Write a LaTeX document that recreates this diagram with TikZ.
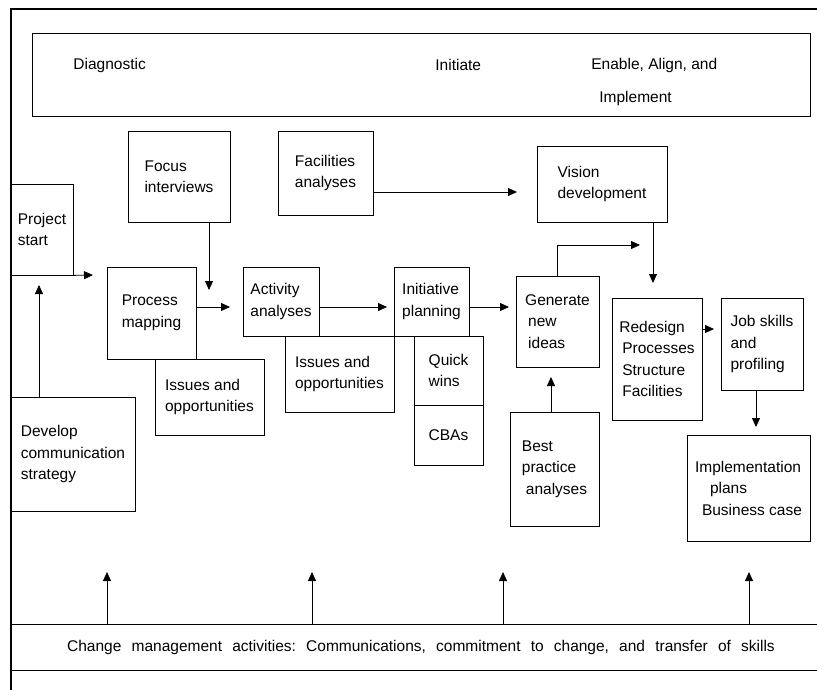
\documentclass[tikz,border=0pt]{standalone}
\usepackage{fontspec}
\setmainfont{Liberation Sans}
\usetikzlibrary{arrows.meta}
\tikzset{
  box/.style={draw, align=left, inner sep=0pt},
  lbl/.style={anchor=west, inner sep=0pt},
  flow/.style={-{Triangle[length=9pt,width=8pt]}},
}
\newcommand{\gap}{\hspace{10.2pt}}

\begin{document}
\begin{tikzpicture}[x=1pt,y=1pt,line width=0.8pt,font=\fontsize{15.5}{21.5}\selectfont]
		\useasboundingbox (0,0) rectangle (817,-690);
		% frame
		\draw [line width=2pt] (11,-690) -- (11,-9) -- (817,-9);
		% phases
		\draw (32,-33) rectangle (810,-116);
		\node [lbl] (diag) at (73,-65) {Diagnostic};
		\node [lbl] (init) at (435,-65) {Initiate};
		\node [lbl] (enable) at (591,-65) {Enable, Align, and};
		\node [lbl] (impl) at (599,-98) {Implement};
		% boxes
		\node [box, minimum width=62, minimum height=91] (start) at (42,-229.5) {Project\\start};
		\node [box, minimum width=102, minimum height=91] (focus) at (179,-176.5) {Focus\\interviews};
		\node [box, minimum width=95, minimum height=84] (facil) at (325.5,-173) {Facilities\\analyses};
		\node [box, minimum width=130, minimum height=76] (vision) at (602,-184) {Vision\\development\hspace{8pt}};
		\node [box, minimum width=89, minimum height=92] (procmap) at (151.5,-313) {Process\\mapping};
		\node [box, minimum width=109, minimum height=76] (issuesa) at (209.5,-397) {Issues and\\opportunities};
		\node [box, minimum width=76, minimum height=69] (activity) at (281,-301.5) {Activity\\analyses};
		\node [box, minimum width=109, minimum height=76] (issuesb) at (339.5,-374) {Issues and\\opportunities};
		\node [box, minimum width=75, minimum height=69] (initplan) at (431.5,-301.5) {Initiative\\planning};
		\node [box, minimum width=69, minimum height=69] (quick) at (448.5,-370.5) {Quick\\wins};
		\node [box, minimum width=69, minimum height=60] (cba) at (448.5,-435) {CBAs};
		\node [box, minimum width=83, minimum height=91] (genideas) at (557.5,-321.5) {Generate\\\hspace{3pt}new\\\hspace{3pt}ideas};
		\node [box, minimum width=89, minimum height=114] (bestprac) at (554.5,-469) {Best\\practice\\\hspace{4pt}analyses};
		\node [box, minimum width=90, minimum height=122] (redesign) at (657,-359) {Redesign\\\hspace{3pt}Processes\\\hspace{3pt}Structure\\\hspace{3pt}Facilities};
		\node [box, minimum width=82, minimum height=92] (jobskills) at (762,-344) {Job skills\\and\\profiling};
		\node [box, minimum width=123, minimum height=106] (implplan) at (748.5,-488) {Implementation\\\hspace{15pt}plans\\\hspace{7pt}Business case};
		\node [box, minimum width=124, minimum height=114] (develop) at (73,-454) {Develop\\communication\\strategy};
		% change management band
		\node [inner sep=0pt, minimum width=806, minimum height=45] (change) at (414,-647.5)
			{\hspace{14pt}Change\gap management\gap activities:\gap Communications,\gap commitment\gap to\gap change,\gap and\gap transfer\gap of\gap skills};
		\draw (change.north west) -- (change.north east);
		\draw (change.south west) -- (change.south east);
		% free ends
		\coordinate (a1) at (93,-275);
		\coordinate (a2) at (39,-285);
		\coordinate (a3) at (209,-290);
		\coordinate (a4) at (230,-307);
		\coordinate (a5) at (387,-307);
		\coordinate (a6) at (509,-307);
		\coordinate (a7) at (517,-192);
		\coordinate (a8) at (640,-245);
		\coordinate (a9) at (653,-283);
		\coordinate (a10) at (714,-329);
		\coordinate (a11) at (756,-427);
		\coordinate (a12) at (551,-377);
		% connectors
		\draw [flow] (start.south east) -- (a1);
		\draw [flow] (develop.north -| a2) -- (a2);
		\draw [flow] (focus.south -| a3) -- (a3);
		\draw [flow] (procmap.east |- a4) -- (a4);
		\draw [flow] (activity.east |- a5) -- (a5);
		\draw [flow] (initplan.east |- a6) -- (a6);
		\draw [flow] (facil.east |- a7) -- (a7);
		\draw [flow] (genideas.north) |- (a8);
		\draw [flow] (vision.south -| a9) -- (a9);
		\draw [flow] (redesign.east |- a10) -- (a10);
		\draw [flow] (jobskills.south -| a11) -- (a11);
		\draw [flow] (bestprac.north -| a12) -- (a12);
		\foreach \x/\n in {107/b1,312/b2,503/b3,749/b4} {
			\coordinate (\n) at (\x,-572);
			\draw [flow] (change.north -| \n) -- (\n);
		}
\end{tikzpicture}
\end{document}
